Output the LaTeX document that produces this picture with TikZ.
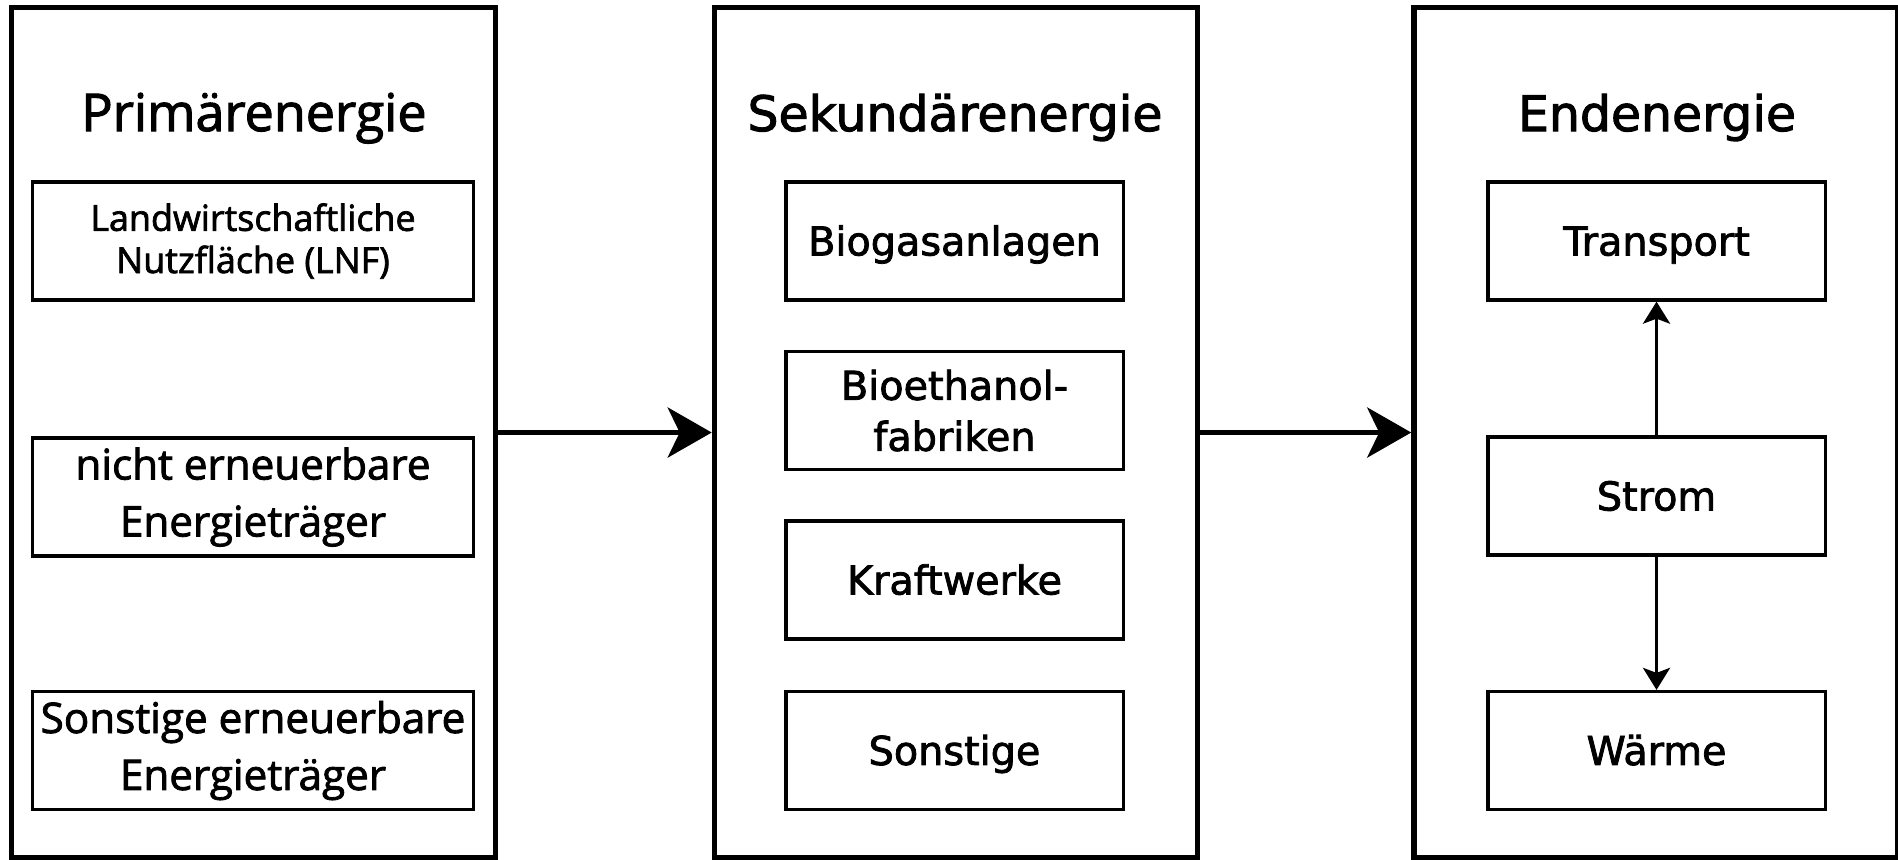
\documentclass[tikz,border=0pt]{standalone}
\usepackage{fontspec}
\setmainfont[FakeBold=2]{Open Sans}
\newfontfamily\widefont[FakeBold=2]{DejaVu Sans}
\usepackage{tikz}
\usetikzlibrary{arrows.meta}

\begin{document}
\begin{tikzpicture}[x=0.01cm, y=-0.01cm,
    outerbox/.style={draw, line width=1.5pt, minimum width=4.83cm, minimum height=8.49cm, inner sep=0pt},
    itembox/.style={draw, line width=0.9pt, minimum height=1.18cm, inner sep=0pt, align=center},
    oneline/.style={text height=8.2pt, text depth=0pt},
    bigarrow/.style={line width=1.5pt, -{Stealth[length=0.44cm, width=0.5cm, inset=0.12cm]}},
    smallarrow/.style={line width=1pt, -{Stealth[length=0.22cm, width=0.27cm, inset=0.05cm]}}]
  \useasboundingbox (0,0) rectangle (1898,859);
  % drei Spalten
  \node[outerbox] (prim) at (253.5,432.5) {};
  \node[outerbox] (sek)  at (956,432.5) {};
  \node[outerbox] (end)  at (1655.5,432.5) {};
  \node[anchor=base,font=\fontsize{14.8}{18}\selectfont] (primtitle) at (254,131) {Primärenergie};
  \node[anchor=base,font=\widefont\fontsize{13.9}{17}\selectfont] (sektitle) at (955,131) {Sekundärenergie};
  \node[anchor=base,font=\widefont\fontsize{13.9}{17}\selectfont] (endtitle) at (1657,131) {Endenergie};
  % Primaerenergie
  \node[itembox,minimum width=4.40cm,font=\fontsize{10.2}{12}\selectfont] (lnf) at (253,241) {Landwirtschaftliche\\Nutzfläche (LNF)};
  \node[itembox,minimum width=4.40cm,font=\fontsize{12}{16.2}\selectfont] (nichterneuerbar) at (253,497) {nicht erneuerbare\\Energieträger};
  \node[itembox,minimum width=4.40cm,font=\fontsize{12}{16.2}\selectfont] (sonstigeerneuerbar) at (253,750.5) {Sonstige erneuerbare\\Energieträger};
  % Sekundaerenergie
  \node[itembox,oneline,minimum width=3.37cm,font=\widefont\fontsize{11.3}{14.5}\selectfont] (biogas) at (954.5,241) {Biogasanlagen};
  \node[itembox,minimum width=3.37cm,font=\widefont\fontsize{11.3}{14.5}\selectfont] (bioethanol) at (954.5,410.5) {Bioethanol-\\fabriken};
  \node[itembox,oneline,minimum width=3.37cm,font=\widefont\fontsize{11.3}{14.5}\selectfont] (kraftwerke) at (954.5,580) {Kraftwerke};
  \node[itembox,oneline,minimum width=3.37cm,font=\widefont\fontsize{11.3}{14.5}\selectfont] (sonstige) at (954.5,750.5) {Sonstige};
  % Endenergie
  \node[itembox,oneline,minimum width=3.37cm,font=\widefont\fontsize{11.3}{14.5}\selectfont] (transport) at (1656.5,241) {Transport};
  \node[itembox,oneline,minimum width=3.37cm,font=\widefont\fontsize{11.3}{14.5}\selectfont] (strom) at (1656.5,496) {Strom};
  \node[itembox,oneline,minimum width=3.37cm,font=\widefont\fontsize{11.3}{14.5}\selectfont] (waerme) at (1656.5,750.5) {Wärme};
  % Pfeile
  \draw[bigarrow] (prim.east) -- (sek.west);
  \draw[bigarrow] (sek.east) -- (end.west);
  \draw[smallarrow] (strom.north) -- (transport.south);
  \draw[smallarrow] (strom.south) -- (waerme.north);
\end{tikzpicture}
\end{document}
